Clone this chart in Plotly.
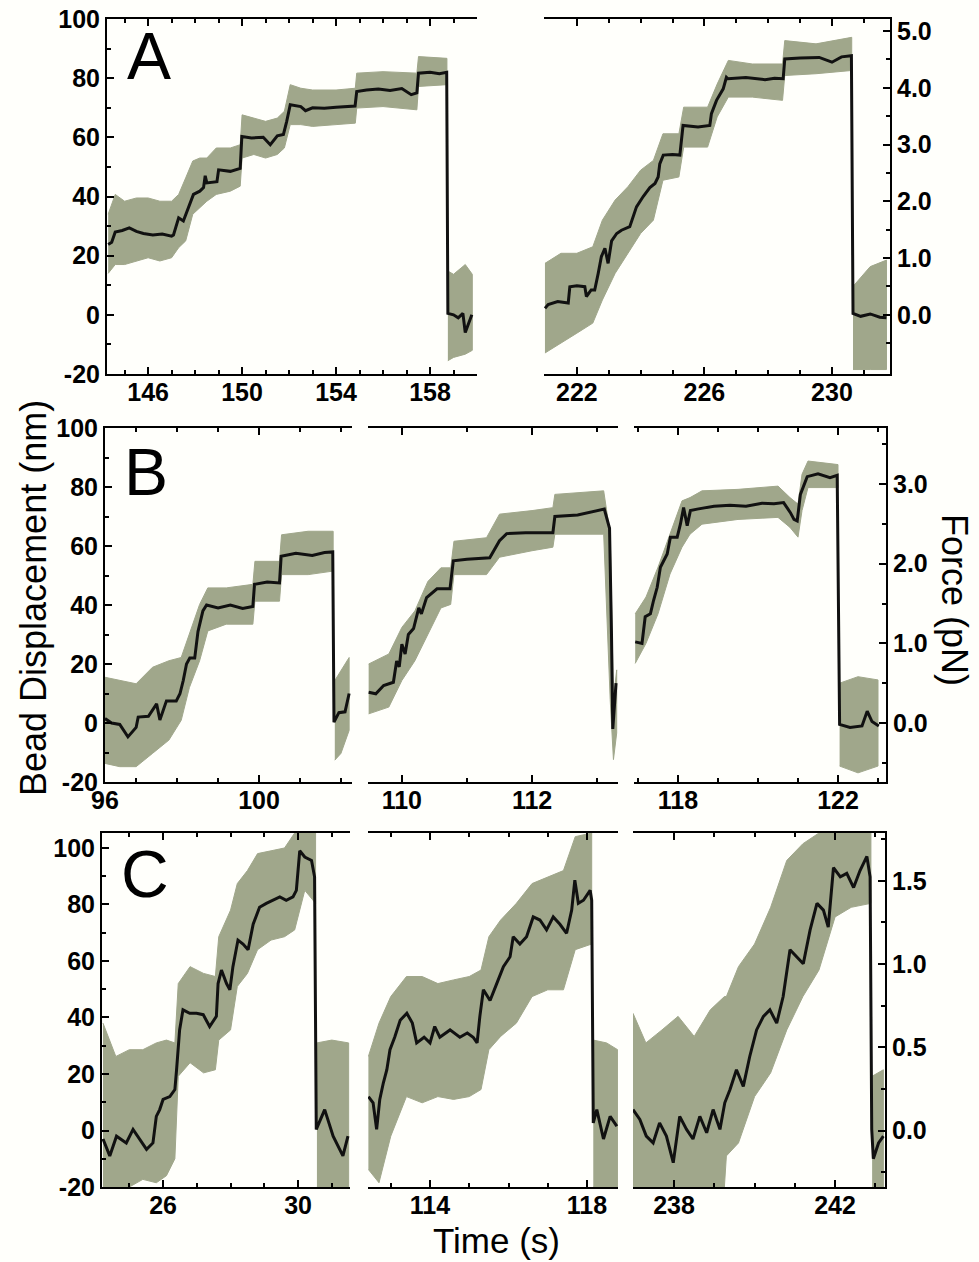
import plotly.graph_objects as go

W, H = 979, 1262
FONT = "Liberation Sans"
BAND = "rgb(160,167,139)"
BG = "#fffffb"

# ---------------- data (bead displacement, nm) ----------------
# Panel A, left
a1_t = [144.3, 144.45, 144.6, 144.9, 145.2, 145.5, 145.8, 146.2, 146.6, 147.0, 147.08, 147.3, 147.5, 147.72, 147.93, 148.2, 148.36, 148.43, 148.5, 148.93, 149.0, 149.5, 149.92, 149.99, 150.4, 150.9, 151.2, 151.5, 151.76, 151.9, 152.05, 152.5, 152.7, 153.0, 153.5, 154.0, 154.5, 154.81, 154.88, 155.3, 155.8, 156.3, 156.8, 157.2, 157.44, 157.51, 158.0, 158.4, 158.71, 158.76, 159.0, 159.2, 159.4, 159.5, 159.78]
a1_y = [23.8, 24.5, 28.0, 28.5, 29.4, 28.2, 27.5, 27.0, 27.3, 26.6, 27.0, 32.8, 31.7, 36.0, 40.7, 41.8, 43.0, 47.0, 44.6, 45.0, 49.0, 48.5, 49.5, 60.3, 59.8, 60.0, 57.5, 60.5, 61.0, 65.4, 71.0, 70.4, 69.0, 70.0, 69.8, 70.2, 70.5, 70.6, 75.5, 76.0, 76.3, 75.8, 76.5, 74.4, 75.0, 81.7, 82.0, 81.5, 82.0, 0.5, 0.0, -1.0, 0.5, -6.0, 0.0]
a1_bt = [144.3, 144.6, 145.0, 145.5, 146.0, 146.5, 147.0, 147.3, 147.6, 147.9, 148.2, 148.5, 148.9, 149.5, 149.92, 150.0, 150.5, 151.0, 151.5, 151.8, 152.05, 152.5, 153.0, 154.0, 154.82, 154.88, 156.0, 157.44, 157.51, 158.72, 158.76, 159.0, 159.5, 159.8]
a1_hi = [34.0, 40.7, 38.4, 39.5, 39.5, 38.4, 38.4, 40.7, 46.3, 52.0, 53.0, 53.0, 56.4, 56.4, 57.5, 67.6, 66.5, 65.4, 66.5, 68.8, 77.8, 76.6, 76.0, 76.0, 76.6, 81.7, 82.2, 81.7, 87.3, 86.7, 14.8, 13.7, 17.0, 13.7]
a1_lo = [14.0, 17.0, 17.0, 18.2, 19.3, 18.2, 19.3, 22.7, 25.0, 34.0, 36.2, 38.4, 40.7, 41.8, 43.5, 53.0, 54.2, 53.0, 54.2, 56.4, 64.3, 64.3, 63.7, 64.3, 64.8, 69.9, 70.4, 69.3, 77.2, 77.8, -15.5, -14.4, -13.3, -12.0]

# Panel A, right
a2_t = [221.0, 221.1, 221.4, 221.73, 221.78, 222.0, 222.25, 222.3, 222.45, 222.56, 222.67, 222.77, 222.88, 222.98, 223.09, 223.25, 223.4, 223.66, 223.87, 224.08, 224.29, 224.45, 224.55, 224.6, 224.71, 225.0, 225.23, 225.28, 225.33, 225.8, 226.17, 226.22, 226.38, 226.59, 226.69, 226.74, 227.3, 227.9, 228.2, 228.47, 228.52, 229.0, 229.6, 230.0, 230.3, 230.61, 230.66, 230.9, 231.2, 231.5, 231.71]
a2_y = [2.2, 3.5, 4.5, 4.0, 9.5, 9.8, 9.5, 6.2, 8.4, 8.4, 14.0, 19.7, 22.5, 17.4, 25.0, 27.5, 28.6, 29.8, 36.5, 40.0, 43.0, 44.4, 46.6, 51.0, 54.0, 54.2, 54.0, 59.0, 64.0, 63.5, 64.0, 68.0, 72.5, 76.4, 80.3, 79.8, 80.2, 79.5, 80.0, 79.8, 86.5, 86.8, 87.0, 85.4, 87.2, 87.6, 0.5, -0.5, 0.3, -0.8, -1.0]
a2_bt = [221.0, 221.5, 222.0, 222.5, 222.8, 223.2, 223.6, 224.0, 224.4, 224.7, 225.2, 225.35, 226.1, 226.4, 226.75, 227.5, 228.45, 228.52, 229.5, 230.62, 230.66, 231.2, 231.71]
a2_hi = [17.4, 20.8, 20.8, 23.0, 32.0, 38.8, 43.3, 48.9, 52.2, 61.2, 61.2, 70.2, 70.2, 78.0, 86.0, 84.8, 84.8, 92.7, 91.6, 93.8, 9.6, 16.3, 18.5]
a2_lo = [-12.9, -9.6, -6.2, -2.8, 5.0, 14.0, 20.8, 27.5, 32.0, 45.5, 46.6, 56.7, 56.7, 66.9, 73.6, 73.6, 72.5, 80.9, 81.5, 82.6, -18.5, -18.5, -18.5]

# Panel B, left
b1_t = [96.24, 96.4, 96.6, 96.8, 97.0, 97.05, 97.3, 97.5, 97.58, 97.66, 97.74, 97.98, 98.07, 98.15, 98.23, 98.31, 98.43, 98.51, 98.55, 98.63, 98.72, 99.0, 99.3, 99.6, 99.85, 99.89, 100.2, 100.5, 100.54, 100.9, 101.3, 101.6, 101.8, 101.83, 101.95, 102.1, 102.2]
b1_y = [1.5, 0.0, -0.5, -4.7, -1.5, 2.0, 2.3, 6.5, 1.0, 4.3, 7.5, 7.5, 9.9, 14.4, 20.0, 22.0, 22.0, 31.0, 33.5, 38.0, 40.0, 39.0, 40.0, 38.8, 39.5, 47.0, 47.8, 47.5, 56.5, 57.5, 56.8, 57.8, 58.0, 0.3, 3.5, 3.8, 10.0]
b1_bt = [96.24, 96.6, 97.0, 97.4, 97.8, 98.1, 98.3, 98.55, 98.75, 99.2, 99.85, 99.9, 100.5, 100.55, 101.2, 101.81, 101.85, 102.0, 102.2]
b1_hi = [15.5, 14.4, 13.3, 18.9, 21.1, 22.2, 30.0, 40.2, 45.8, 45.8, 47.0, 54.8, 54.8, 63.8, 65.0, 65.0, 14.4, 17.8, 22.2]
b1_lo = [-13.7, -14.8, -14.8, -10.3, -5.8, 0.9, 12.0, 21.1, 31.2, 33.5, 33.5, 41.3, 41.3, 50.3, 50.3, 51.5, -12.6, -10.3, -2.5]

# Panel B, middle
b2_t = [109.49, 109.6, 109.72, 109.87, 109.92, 109.96, 110.0, 110.05, 110.1, 110.18, 110.26, 110.3, 110.38, 110.46, 110.54, 110.74, 110.79, 111.0, 111.35, 111.5, 111.61, 111.9, 112.32, 112.35, 112.7, 113.11, 113.19, 113.22, 113.24, 113.29]
b2_y = [10.4, 9.9, 12.7, 13.8, 21.0, 19.0, 26.7, 23.4, 30.0, 32.0, 39.0, 37.0, 42.5, 44.0, 45.5, 45.5, 55.0, 55.5, 56.0, 61.8, 64.2, 64.5, 64.5, 70.0, 70.5, 72.5, 66.0, 30.0, -2.0, 13.5]
b2_bt = [109.49, 109.8, 110.0, 110.2, 110.4, 110.6, 110.75, 110.8, 111.3, 111.5, 112.0, 112.32, 112.35, 113.1, 113.2, 113.25, 113.3]
b2_hi = [20.0, 23.4, 32.4, 38.0, 48.0, 52.6, 52.6, 61.6, 62.8, 70.8, 72.0, 73.0, 77.5, 78.7, 64.0, 7.9, 18.0]
b2_lo = [3.1, 5.4, 14.4, 21.1, 30.0, 39.0, 40.2, 50.3, 50.3, 56.2, 58.4, 59.6, 64.0, 64.0, 7.9, -12.4, -3.4]

# Panel B, right
b3_t = [116.93, 117.1, 117.18, 117.31, 117.39, 117.48, 117.56, 117.64, 117.73, 117.81, 117.98, 118.06, 118.14, 118.23, 118.31, 118.48, 118.9, 119.3, 119.7, 120.1, 120.4, 120.64, 120.81, 120.9, 120.98, 121.06, 121.23, 121.5, 121.8, 121.98, 122.04, 122.3, 122.6, 122.73, 122.85, 123.02]
b3_y = [27.5, 27.0, 36.0, 37.0, 41.6, 46.0, 52.8, 55.0, 57.3, 63.0, 63.0, 67.4, 73.0, 66.9, 72.0, 72.5, 73.5, 73.8, 73.5, 74.5, 74.3, 74.7, 71.3, 69.0, 68.5, 77.5, 83.5, 84.5, 83.2, 84.0, -0.5, -1.5, -1.0, 4.0, 0.5, -1.0]
b3_bt = [116.93, 117.2, 117.5, 117.8, 118.1, 118.3, 118.6, 119.5, 120.5, 120.8, 121.0, 121.1, 121.25, 122.0, 122.04, 122.5, 123.0]
b3_hi = [37.0, 42.7, 52.8, 64.0, 75.3, 76.4, 78.7, 79.2, 80.3, 76.4, 74.2, 84.3, 88.8, 87.6, 13.5, 15.7, 14.6]
b3_lo = [20.2, 27.0, 37.0, 50.5, 59.6, 64.0, 67.4, 69.0, 69.7, 66.3, 63.0, 72.0, 79.8, 79.8, -14.6, -16.9, -14.6]

# Panel C, left
c1_t = [24.22, 24.42, 24.62, 24.91, 25.11, 25.31, 25.51, 25.7, 25.8, 25.9, 26.0, 26.2, 26.35, 26.4, 26.49, 26.59, 26.79, 26.99, 27.19, 27.38, 27.58, 27.63, 27.73, 27.88, 27.98, 28.07, 28.22, 28.37, 28.52, 28.67, 28.86, 29.06, 29.26, 29.46, 29.65, 29.85, 29.95, 30.05, 30.2, 30.4, 30.49, 30.54, 30.79, 31.04, 31.33, 31.48]
c1_y = [-3.0, -9.0, -2.0, -4.4, 0.4, -3.0, -6.7, -4.4, 5.0, 7.4, 11.0, 12.0, 14.5, 21.5, 35.6, 42.7, 41.5, 41.5, 41.0, 36.8, 40.4, 52.0, 56.8, 52.0, 49.8, 58.0, 67.4, 66.0, 64.0, 73.0, 79.0, 80.4, 81.5, 82.7, 81.5, 82.7, 85.0, 99.0, 96.8, 95.6, 89.8, 0.4, 7.4, -2.0, -9.0, -2.0]
c1_bt = [24.22, 24.6, 25.0, 25.4, 25.8, 26.1, 26.35, 26.45, 26.8, 27.2, 27.55, 27.65, 28.0, 28.2, 28.5, 28.8, 29.2, 29.6, 29.9, 30.2, 30.52, 30.56, 31.0, 31.5]
c1_hi = [38.0, 26.2, 28.6, 28.6, 31.0, 32.0, 31.0, 52.0, 58.0, 55.6, 54.5, 68.6, 78.0, 87.4, 92.0, 98.0, 99.0, 100.0, 105.3, 105.3, 105.3, 31.0, 32.0, 31.0]
c1_lo = [-20, -20, -20, -17.3, -18.5, -16.0, -10.0, 19.2, 24.0, 20.4, 21.5, 32.0, 35.6, 51.0, 55.6, 64.0, 67.4, 68.6, 71.0, 85.0, 80.4, -20, -20, -20]

# Panel C, middle
c2_t = [112.43, 112.55, 112.64, 112.72, 112.81, 112.9, 112.98, 113.1, 113.24, 113.41, 113.55, 113.66, 113.85, 114.0, 114.12, 114.25, 114.51, 114.76, 114.95, 115.1, 115.2, 115.27, 115.36, 115.53, 115.7, 115.87, 116.04, 116.12, 116.29, 116.46, 116.63, 116.8, 116.97, 117.14, 117.31, 117.48, 117.61, 117.69, 117.78, 117.91, 118.08, 118.12, 118.16, 118.25, 118.42, 118.59, 118.76]
c2_y = [12.0, 9.8, 0.4, 11.0, 16.8, 21.5, 28.6, 33.0, 39.0, 41.5, 38.0, 31.0, 33.0, 31.0, 36.8, 33.0, 35.6, 33.0, 34.5, 33.0, 31.0, 40.4, 49.8, 46.0, 52.0, 58.0, 61.5, 68.6, 66.0, 68.6, 75.6, 74.5, 71.0, 75.6, 73.0, 69.8, 78.0, 88.6, 80.4, 81.5, 85.0, 81.5, 2.7, 7.4, -3.0, 5.0, 1.5]
c2_bt = [112.43, 112.7, 113.0, 113.4, 113.8, 114.2, 114.6, 115.0, 115.3, 115.5, 115.8, 116.2, 116.6, 117.0, 117.4, 117.7, 118.12, 118.16, 118.5, 118.78]
c2_hi = [26.2, 38.0, 47.4, 54.5, 54.5, 52.0, 53.3, 54.5, 56.8, 68.6, 74.5, 80.4, 87.4, 89.8, 92.0, 104.0, 105.3, 32.0, 31.0, 28.6]
c2_lo = [-13.8, -18.5, -2.0, 12.0, 9.8, 12.0, 11.0, 12.0, 14.5, 28.6, 33.3, 38.0, 47.4, 49.8, 49.8, 64.0, 66.0, -20, -20, -20]

# Panel C, right
c3_t = [236.98, 237.15, 237.31, 237.48, 237.64, 237.81, 237.98, 238.14, 238.31, 238.47, 238.64, 238.81, 238.97, 239.14, 239.26, 239.39, 239.55, 239.72, 239.88, 240.05, 240.22, 240.38, 240.55, 240.71, 240.88, 241.05, 241.21, 241.38, 241.55, 241.71, 241.83, 241.96, 242.13, 242.29, 242.46, 242.62, 242.79, 242.87, 242.91, 242.95, 243.08, 243.2]
c3_y = [7.4, 3.9, -2.0, -4.4, 2.7, -2.0, -11.4, 5.0, 0.4, -3.0, 5.0, -0.8, 7.4, 0.4, 9.8, 14.5, 21.5, 15.6, 26.2, 35.6, 40.4, 42.7, 38.0, 47.4, 64.0, 61.5, 59.0, 71.0, 80.4, 78.0, 72.0, 93.0, 89.8, 91.0, 86.0, 92.0, 97.0, 89.8, 0.4, -10.0, -4.4, -2.0]
c3_bt = [236.98, 237.3, 237.7, 238.1, 238.5, 238.9, 239.25, 239.3, 239.6, 240.0, 240.4, 240.8, 241.2, 241.6, 242.0, 242.4, 242.89, 242.92, 243.2]
c3_hi = [41.5, 31.0, 35.6, 40.4, 33.3, 42.7, 47.4, 47.4, 58.0, 66.0, 79.0, 95.6, 101.5, 105.3, 105.3, 105.3, 105.3, 19.2, 21.5]
c3_lo = [-20, -20, -20, -20, -20, -20, -20, -9.0, -4.4, 12.0, 20.4, 35.6, 47.4, 56.8, 75.6, 79.0, 80.4, -20, -20]

# detachment times (s) and trap stiffness (nm per pN) for each row
drops = {"a1": 158.74, "a2": 230.64, "b1": 101.82, "b2": None, "b3": 122.02,
         "c1": 30.54, "c2": 118.14, "c3": 242.9}
nm_per_pN = {"A": 19.19, "B": 27.0, "C": 58.9}

# axis tick labels
x_major = {"a1": [146, 150, 154, 158], "a2": [222, 226, 230], "b1": [100], "b2": [110, 112],
           "b3": [118, 122], "c1": [26, 30], "c2": [114, 118], "c3": [238, 242]}
y_ticks = [-20, 0, 20, 40, 60, 80, 100]
force_ticks = {"A": [0, 1, 2, 3, 4, 5], "B": [0, 1, 2, 3], "C": [0, 0.5, 1.0, 1.5]}

# ---------------- layout geometry (pixels) ----------------
rows = {"A": (19, 374, (-20, 100)), "B": (428, 782, (-20, 100)), "C": (833, 1187, (-20, 105.3))}
panels = [
    # key, row, x-pixels, x-range, left axis shown
    ("a1", "A", (107, 477), (144.25, 160.0), True),
    ("a2", "A", (544, 890), (220.97, 231.82), False),
    ("b1", "B", (105, 352), (96.24, 102.27), True),
    ("b2", "B", (368, 618), (109.48, 113.32), False),
    ("b3", "B", (634, 886), (116.9, 123.2), False),
    ("c1", "C", (102, 350), (24.19, 31.54), True),
    ("c2", "C", (368, 618), (112.42, 118.79), False),
    ("c3", "C", (633, 885), (236.98, 243.24), False),
]
data = {
    "a1": (a1_t, a1_y, a1_bt, a1_hi, a1_lo), "a2": (a2_t, a2_y, a2_bt, a2_hi, a2_lo),
    "b1": (b1_t, b1_y, b1_bt, b1_hi, b1_lo), "b2": (b2_t, b2_y, b2_bt, b2_hi, b2_lo),
    "b3": (b3_t, b3_y, b3_bt, b3_hi, b3_lo), "c1": (c1_t, c1_y, c1_bt, c1_hi, c1_lo),
    "c2": (c2_t, c2_y, c2_bt, c2_hi, c2_lo), "c3": (c3_t, c3_y, c3_bt, c3_hi, c3_lo),
}


def band_polygon(bt, hi, lo, drop):
    if drop is None:
        segs = [list(range(len(bt)))]
    else:
        segs = [[i for i in range(len(bt)) if bt[i] < drop],
                [i for i in range(len(bt)) if bt[i] >= drop]]
    xs, ys = [], []
    for seg in segs:
        if not seg:
            continue
        xs += [bt[i] for i in seg] + [bt[i] for i in reversed(seg)] + [None]
        ys += [hi[i] for i in seg] + [lo[i] for i in reversed(seg)] + [None]
    return xs, ys


tickfont = dict(family=FONT, size=25, color="black", weight="bold")
fig = go.Figure()
layout = dict(template="none", width=W, height=H, margin=dict(l=0, r=0, t=0, b=0, pad=0),
              paper_bgcolor=BG, plot_bgcolor=BG, showlegend=False)

for i, (key, row, (px0, px1), xr, show_left) in enumerate(panels):
    n = i + 1
    xa = "x" if n == 1 else f"x{n}"
    ya = "y" if n == 1 else f"y{n}"
    top, bot, yr = rows[row]
    t, y, bt, hi, lo = data[key]
    bx, by = band_polygon(bt, hi, lo, drops[key])
    fig.add_trace(go.Scatter(x=bx, y=by, xaxis=xa, yaxis=ya, mode="lines", fill="toself",
                             fillcolor=BAND, line=dict(color=BAND, width=1),
                             hoverinfo="skip"))
    fig.add_trace(go.Scatter(x=t, y=y, xaxis=xa, yaxis=ya, mode="lines",
                             line=dict(color="#111111", width=3), hoverinfo="skip"))

    majors = x_major[key]
    tv = list(majors)
    tt = [str(v) for v in majors]
    if key == "b1":
        tv = [xr[0]] + tv
        tt = ["96"] + tt
    minors = [v for v in range(int(xr[0]) - 1, int(xr[1]) + 2) if xr[0] < v < xr[1] and v not in majors]
    xdom = [px0 / W, px1 / W]
    ydom = [1 - bot / H, 1 - top / H]
    layout["xaxis" if n == 1 else f"xaxis{n}"] = dict(
        domain=xdom, range=list(xr), anchor=ya, automargin=False, showline=True,
        linecolor="black", linewidth=2, mirror="ticks", ticks="inside", ticklen=7,
        tickwidth=2, tickcolor="black", tickmode="array", tickvals=tv, ticktext=tt,
        tickfont=tickfont, ticklabelstandoff=-5,
        minor=dict(tickmode="array", tickvals=minors, ticks="inside", ticklen=4,
                   tickwidth=1.5, tickcolor="black"),
        showgrid=False, zeroline=False)
    yax = dict(domain=ydom, range=list(yr), anchor=xa, automargin=False,
               showgrid=False, zeroline=False)
    if show_left:
        yax.update(showline=True, linecolor="black", linewidth=2, ticks="inside",
                   ticklen=7, tickwidth=2, tickcolor="black", tickmode="array",
                   tickvals=y_ticks, ticktext=[str(v) for v in y_ticks], tickfont=tickfont,
                   minor=dict(tickmode="array", tickvals=[-10, 10, 30, 50, 70, 90],
                              ticks="inside", ticklen=4, tickwidth=1.5, tickcolor="black"))
    else:
        yax.update(visible=False)
    layout["yaxis" if n == 1 else f"yaxis{n}"] = yax

# right-hand force axes
force_axes = [("A", 2, 9), ("B", 5, 10), ("C", 8, 11)]
for row, host, n in force_axes:
    k = nm_per_pN[row]
    top, bot, yr = rows[row]
    key = panels[host - 1][0]
    t, y = data[key][0], data[key][1]
    fig.add_trace(go.Scatter(x=t, y=[v / k for v in y], xaxis=f"x{host}", yaxis=f"y{n}",
                             mode="lines", line=dict(width=0), opacity=0, hoverinfo="skip"))
    ft = force_ticks[row]
    step = ft[1] - ft[0]
    lo_f, hi_f = yr[0] / k, yr[1] / k
    minors = []
    v = -step / 2
    while v > lo_f:
        minors.append(v)
        v -= step
    v = step / 2
    while v < hi_f:
        minors.append(v)
        v += step
    layout[f"yaxis{n}"] = dict(
        overlaying=f"y{host}", anchor=f"x{host}", side="right", range=[lo_f, hi_f],
        automargin=False, showline=True, linecolor="black", linewidth=2, ticks="inside",
        ticklen=7, tickwidth=2, tickcolor="black", tickmode="array", tickvals=ft,
        ticktext=[f"{v:.1f}" for v in ft], tickfont=tickfont,
        minor=dict(tickmode="array", tickvals=minors, ticks="inside", ticklen=4,
                   tickwidth=1.5, tickcolor="black"),
        showgrid=False, zeroline=False)


def ann(text, px, py, size, angle=0):
    return dict(text=text, x=px / W, y=1 - py / H, xref="paper", yref="paper",
                showarrow=False, xanchor="center", yanchor="middle", textangle=angle,
                font=dict(family=FONT, size=size, color="black"))


layout["annotations"] = [
    ann("A", 149, 56, 66), ann("B", 146, 472, 66), ann("C", 145, 874, 66),
    ann("Bead Displacement (nm)", 33, 598, 36, -90),
    ann("Force (pN)", 955, 600, 36, 90),
    ann("Time (s)", 496, 1240, 35),
]
fig.update_layout(**layout)
fig.write_html("out.html", config={"displayModeBar": False},
               post_script="document.body.style.margin='0px';document.body.style.overflow='hidden';")
